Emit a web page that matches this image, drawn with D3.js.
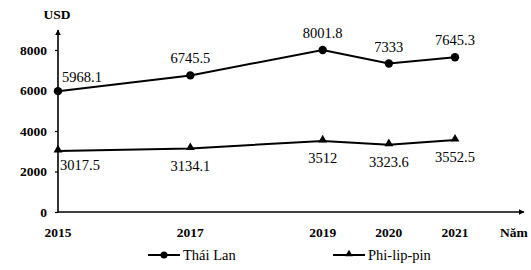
<!DOCTYPE html>
<html>
<head>
	<meta charset="utf-8">
	<script src="https://d3js.org/d3.v7.min.js"></script>
	<style>
		html, body { margin: 0; padding: 0; background: #fff; }
		svg, svg text { font-family: "Liberation Serif", "DejaVu Serif", serif !important; }
	</style>
</head>
<body>
	<svg width="531" height="270"></svg>
	<script>
		// data
		const years = [2015, 2017, 2019, 2020, 2021];
		const thaiLan = [5968.1, 6745.5, 8001.8, 7333, 7645.3];
		const philippines = [3017.5, 3134.1, 3512, 3323.6, 3552.5];
		const yTicks = [0, 2000, 4000, 6000, 8000];
		const seriesNames = ["Thái Lan", "Phi-lip-pin"];

		const svg = d3.select("svg");

		const x = d3.scaleLinear().domain([2015, 2021]).range([58, 455]);
		const y = d3.scaleLinear().domain([0, 8000]).range([212, 50]);

		// arrow head for the axes
		svg.append("defs").append("marker")
			.attr("id", "arrow")
			.attr("viewBox", "0 0 10 10")
			.attr("refX", 9).attr("refY", 5)
			.attr("markerWidth", 6).attr("markerHeight", 6)
			.attr("markerUnits", "userSpaceOnUse")
			.attr("orient", "auto")
			.append("path").attr("d", "M0,0 L10,5 L0,10 Z").attr("fill", "#000");

		// y axis ticks + labels
		const yAxis = svg.append("g")
			.attr("transform", "translate(58,0)")
			.call(d3.axisLeft(y).tickValues(yTicks).tickSize(3).tickPadding(8).tickFormat(d3.format("d")));
		yAxis.attr("font-family", null);
		yAxis.select(".domain").remove();
		yAxis.selectAll("line").attr("stroke", "#000").attr("stroke-width", 1.2);
		yAxis.selectAll("text")
			.attr("font-size", 13.5)
			.attr("font-weight", "bold")
			.attr("fill", "#000");

		// axis lines with arrows
		svg.append("line")
			.attr("x1", 58).attr("y1", y(0) + 0.5).attr("x2", 58).attr("y2", 30)
			.attr("stroke", "#000").attr("stroke-width", 1.6)
			.attr("marker-end", "url(#arrow)");
		svg.append("line")
			.attr("x1", 58).attr("y1", y(0)).attr("x2", 524).attr("y2", y(0))
			.attr("stroke", "#000").attr("stroke-width", 1.6)
			.attr("marker-end", "url(#arrow)");

		// x axis labels
		svg.append("g").selectAll("text")
			.data(years)
			.enter()
			.append("text")
			.attr("x", d => x(d))
			.attr("y", 237)
			.attr("text-anchor", "middle")
			.attr("font-size", 13.5)
			.attr("font-weight", "bold")
			.text(d => d);

		svg.append("text").attr("x", 57).attr("y", 19)
			.attr("text-anchor", "middle").attr("font-size", 13.5).attr("font-weight", "bold")
			.text("USD");
		svg.append("text").attr("x", 500).attr("y", 237)
			.attr("font-size", 13.5).attr("font-weight", "bold")
			.text("Năm");

		const line = d3.line().x((d, i) => x(years[i])).y(d => y(d));

		// Thai Lan
		svg.append("path").datum(thaiLan)
			.attr("d", line).attr("fill", "none").attr("stroke", "#000").attr("stroke-width", 2);
		svg.selectAll(".dotThai")
			.data(thaiLan).enter().append("circle")
			.attr("class", "dotThai")
			.attr("cx", (d, i) => x(years[i])).attr("cy", d => y(d)).attr("r", 4.2)
			.attr("fill", "#000");
		svg.selectAll(".lblThai")
			.data(thaiLan).enter().append("text")
			.attr("class", "lblThai")
			.attr("x", (d, i) => i === 0 ? x(years[i]) + 4 : x(years[i]))
			.attr("y", (d, i) => y(d) + (i === 0 ? -9 : -12))
			.attr("text-anchor", (d, i) => i === 0 ? "start" : "middle")
			.attr("font-size", 14.5)
			.text(d => d);

		// Phi-lip-pin
		const tri = d3.symbol().type(d3.symbolTriangle).size(34);
		svg.append("path").datum(philippines)
			.attr("d", line).attr("fill", "none").attr("stroke", "#000").attr("stroke-width", 2);
		svg.selectAll(".dotPhi")
			.data(philippines).enter().append("path")
			.attr("class", "dotPhi")
			.attr("transform", (d, i) => "translate(" + x(years[i]) + "," + (y(d) - 1) + ")")
			.attr("d", tri)
			.attr("fill", "#000");
		svg.selectAll(".lblPhi")
			.data(philippines).enter().append("text")
			.attr("class", "lblPhi")
			.attr("x", (d, i) => i === 0 ? x(years[i]) + 2 : x(years[i]))
			.attr("y", (d, i) => y(d) + (i === 0 ? 19 : 22))
			.attr("text-anchor", (d, i) => i === 0 ? "start" : "middle")
			.attr("font-size", 14.5)
			.text(d => d);

		// legend
		const legend = svg.append("g");
		const lx = [148, 333];
		legend.selectAll("line")
			.data(seriesNames).enter().append("line")
			.attr("x1", (d, i) => lx[i]).attr("x2", (d, i) => lx[i] + 32)
			.attr("y1", 255).attr("y2", 255)
			.attr("stroke", "#000").attr("stroke-width", 2);
		legend.append("circle").attr("cx", lx[0] + 16).attr("cy", 255).attr("r", 3.5).attr("fill", "#000");
		legend.append("path").attr("transform", "translate(" + (lx[1] + 16) + ",254)")
			.attr("d", d3.symbol().type(d3.symbolTriangle).size(24)).attr("fill", "#000");
		legend.selectAll("text")
			.data(seriesNames).enter().append("text")
			.attr("x", (d, i) => lx[i] + 35).attr("y", 260)
			.attr("font-size", 14.5)
			.text(d => d);
	</script>
</body>
</html>
